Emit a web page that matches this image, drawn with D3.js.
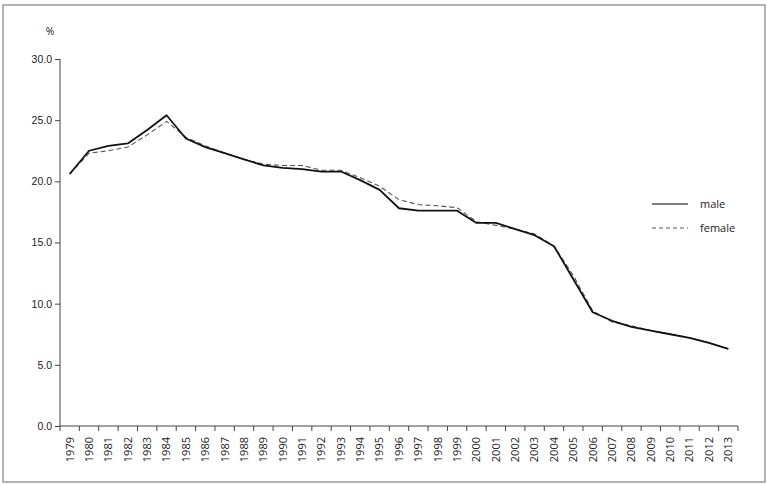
<!DOCTYPE html>
<html>
<head>
<meta charset="utf-8">
<script src="https://cdn.jsdelivr.net/npm/d3@7"></script>
<style>
  body { margin: 0; background: #fff; }
  svg { display: block; font-family: "Open Sans", "Noto Sans", sans-serif; }
  .axis path, .axis line { stroke: #444; }
  .axis text { fill: #222; font-size: 10.5px; }
</style>
</head>
<body>
<div id="chart"></div>
<script>
// years on the x axis
var years = [1979, 1980, 1981, 1982, 1983, 1984, 1985, 1986, 1987, 1988,
  1989, 1990, 1991, 1992, 1993, 1994, 1995, 1996, 1997, 1998,
  1999, 2000, 2001, 2002, 2003, 2004, 2005, 2006, 2007, 2008,
  2009, 2010, 2011, 2012, 2013];

// share in %
var male = [20.6, 22.5, 22.9, 23.1, 24.2, 25.4, 23.5, 22.8, 22.3, 21.8,
  21.3, 21.1, 21.0, 20.8, 20.8, 20.1, 19.3, 17.8, 17.6, 17.6,
  17.6, 16.6, 16.6, 16.1, 15.6, 14.7, 12.0, 9.3, 8.6, 8.1,
  7.8, 7.5, 7.2, 6.8, 6.3];

var female = [20.6, 22.3, 22.5, 22.8, 23.8, 24.9, 23.6, 22.9, 22.3, 21.8,
  21.4, 21.3, 21.3, 20.9, 20.9, 20.3, 19.6, 18.5, 18.1, 18.0,
  17.85, 16.7, 16.4, 16.1, 15.7, 14.7, 12.3, 9.4, 8.5, 8.2,
  7.8, 7.5, 7.2, 6.8, 6.3];

var yTicks = [0, 5, 10, 15, 20, 25, 30];

var series = [
  { name: 'male', values: male },
  { name: 'female', values: female }
];

var W = 767, H = 485;
var margin = { top: 59, right: 29, bottom: 59, left: 60 };
var width = W - margin.left - margin.right;
var height = H - margin.top - margin.bottom;

var svg = d3.select('#chart').append('svg')
  .attr('width', W)
  .attr('height', H);

// outer frame
svg.append('rect')
  .attr('x', 3).attr('y', 5)
  .attr('width', 762).attr('height', 477)
  .attr('fill', 'none')
  .attr('stroke', '#9a9a9a')
  .attr('stroke-width', 1.5);

var g = svg.append('g')
  .attr('transform', 'translate(' + margin.left + ',' + margin.top + ')');

var xScale = d3.scaleBand().domain(years).range([0, width]);
var yScale = d3.scaleLinear().domain([0, 30]).range([height, 0]);

// y axis
var yAxis = d3.axisLeft(yScale)
  .tickValues(yTicks)
  .tickFormat(d3.format('.1f'))
  .tickSize(5)
  .tickPadding(3);
g.append('g')
  .attr('class', 'y axis')
  .call(yAxis)
  .call(function(s) { s.select('.domain').attr('d', 'M0,' + height + 'V0'); });

g.append('text')
  .attr('x', -10)
  .attr('y', -24)
  .attr('text-anchor', 'middle')
  .attr('font-size', 10.5)
  .attr('fill', '#222')
  .text('%');

// x axis: ticks on band edges, labels in band centers
var xAxisG = g.append('g')
  .attr('class', 'x axis')
  .attr('transform', 'translate(0,' + height + ')');

xAxisG.append('path')
  .attr('d', 'M0,0H' + width)
  .attr('stroke', '#444')
  .attr('fill', 'none');

var edges = years.map(function(y) { return xScale(y); }).concat([width]);
xAxisG.selectAll('.edge')
  .data(edges)
  .enter().append('line')
  .attr('class', 'edge')
  .attr('x1', function(d) { return d; })
  .attr('x2', function(d) { return d; })
  .attr('y1', 0)
  .attr('y2', 5);

xAxisG.selectAll('.lbl')
  .data(years)
  .enter().append('text')
  .attr('class', 'lbl')
  .attr('transform', function(d) {
    return 'translate(' + (xScale(d) + xScale.bandwidth() / 2) + ',11) rotate(-90)';
  })
  .attr('text-anchor', 'end')
  .attr('dy', '0.35em')
  .style('font-size', '11px')
  .text(function(d) { return d; });

// lines
var line = d3.line()
  .x(function(d, i) { return xScale(years[i]) + xScale.bandwidth() / 2; })
  .y(function(d) { return yScale(d); });

g.append('path')
  .datum(female)
  .attr('fill', 'none')
  .attr('stroke', '#555')
  .attr('stroke-width', 1.1)
  .attr('stroke-dasharray', '5,3')
  .attr('d', line);

g.append('path')
  .datum(male)
  .attr('fill', 'none')
  .attr('stroke', '#111')
  .attr('stroke-width', 1.8)
  .attr('stroke-linejoin', 'round')
  .attr('d', line);

// legend
var legend = svg.selectAll('.legend')
  .data(series)
  .enter().append('g')
  .attr('class', 'legend')
  .attr('transform', function(d, i) { return 'translate(652,' + (204 + i * 24) + ')'; });

legend.append('line')
  .attr('x1', 0).attr('x2', 36)
  .attr('stroke', '#555')
  .attr('stroke-width', function(d) { return d.name === 'male' ? 1.4 : 1; })
  .attr('stroke-dasharray', function(d) { return d.name === 'male' ? null : '4,3'; });

legend.append('text')
  .attr('x', 48)
  .attr('dy', '0.35em')
  .attr('font-size', 11)
  .attr('fill', '#222')
  .text(function(d) { return d.name; });
</script>
</body>
</html>
